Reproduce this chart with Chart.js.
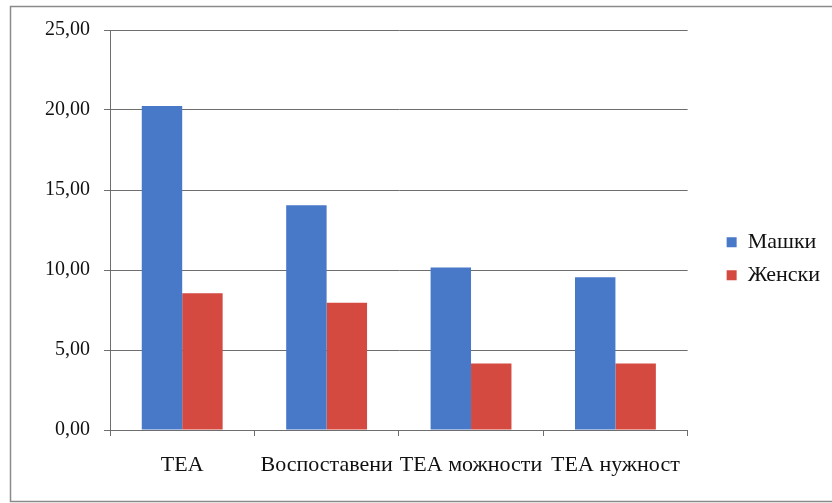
<!DOCTYPE html>
<html>
<head>
<meta charset="utf-8">
<script src="https://cdn.jsdelivr.net/npm/chart.js@4"></script>
<style>
  html, body { margin: 0; padding: 0; background: #fff; }
  #wrap { width: 832px; height: 503px; position: relative; }
</style>
</head>
<body>
<div id="wrap"><canvas id="myChart" width="832" height="503"></canvas></div>
<script>
// categories and series
const kategorii = ['TEA', 'Воспоставени', 'TEA можности', 'TEA нужност'];
const mashki = [20.25, 14.05, 10.15, 9.55];
const zhenski = [8.55, 7.95, 4.15, 4.15];
const yMin = 0;
const yMax = 25;
const yStep = 5;

const sivo = '#6e6e6e';
Chart.defaults.font.family = "'Liberation Serif', 'Times New Roman', serif";
Chart.defaults.color = '#111';

// frame around the whole chart, like the original
const ramka = {
    id: 'ramka',
    beforeDraw(chart) {
        const ctx = chart.ctx;
        ctx.save();
        ctx.fillStyle = '#ffffff';
        ctx.fillRect(0, 0, chart.width, chart.height);
        ctx.strokeStyle = '#8a8a8a';
        ctx.lineWidth = 1.5;
        ctx.strokeRect(10.5, 6.5, chart.width + 5, chart.height - 8);
        ctx.restore();
    }
};

const data = {
    labels: kategorii,
    datasets: [{
        label: 'Машки',
        backgroundColor: '#4878C8',
        data: mashki
    }, {
        label: 'Женски',
        backgroundColor: '#D44A40',
        data: zhenski
    }]
};

const config = {
    type: 'bar',
    data: data,
    plugins: [ramka],
    options: {
        responsive: false,
        animation: false,
        layout: { padding: { top: 30, right: 2, bottom: 0, left: 0 } },
        datasets: {
            bar: { barPercentage: 1, categoryPercentage: 0.56 }
        },
        plugins: {
            tooltip: { enabled: false },
            legend: {
                position: 'right',
                fullSize: false,
                title: { display: true, text: '', font: { size: 12 }, padding: { top: 0, bottom: 43 } },
                labels: {
                    boxWidth: 10,
                    boxHeight: 10,
                    padding: 11,
                    font: { size: 22 }
                }
            }
        },
        scales: {
            x: {
                grid: { display: true, offset: true, drawOnChartArea: false, tickLength: 6, color: sivo },
                border: { color: sivo },
                ticks: {
                    maxRotation: 0,
                    autoSkip: false,
                    padding: 16,
                    font: { size: 22 }
                },
                afterFit: function (scale) { scale.height = 73; }
            },
            y: {
                min: yMin,
                max: yMax,
                grid: { color: sivo, tickLength: 6 },
                border: { color: sivo },
                ticks: {
                    stepSize: yStep,
                    padding: 14,
                    font: { size: 20 },
                    callback: function (v) { return v.toFixed(2).replace('.', ','); }
                },
                afterFit: function (scale) { scale.width = 110; }
            },
            // empty axis, only to leave the gap before the legend
            prazno: {
                type: 'linear',
                position: 'right',
                display: true,
                grid: { display: false },
                border: { display: false },
                ticks: { display: false },
                afterFit: function (scale) { scale.width = 28; }
            }
        }
    }
};

const myChart = new Chart(document.getElementById('myChart').getContext('2d'), config);
</script>
</body>
</html>
